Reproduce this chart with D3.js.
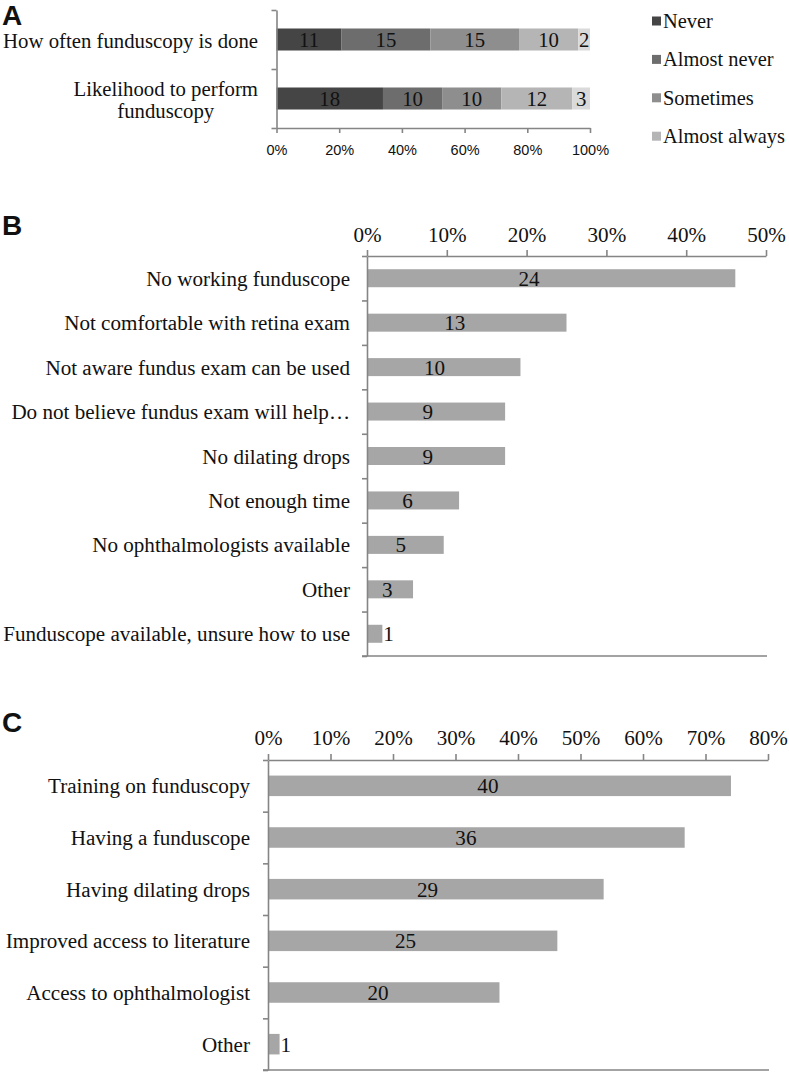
<!DOCTYPE html>
<html><head><meta charset="utf-8">
<script src="https://cdn.jsdelivr.net/npm/d3@7"></script>
<style>body{margin:0;background:#fff} svg{display:block}</style>
</head><body>
<svg id="c" width="789" height="1074"></svg>
<script>
// ---------- DATA ----------
const aCategories = ["How often funduscopy is done", "Likelihood to perform funduscopy"];
const aLabelLines = [["How often funduscopy is done"], ["Likelihood to perform", "funduscopy"]];
const aSeries = ["Never", "Almost never", "Sometimes", "Almost always", "Always"];
const aNever = [11, 18];
const aAlmostNever = [15, 10];
const aSometimes = [15, 10];
const aAlmostAlways = [10, 12];
const aAlways = [2, 3];
const aLegend = ["Never", "Almost never", "Sometimes", "Almost always"];
const aTicks = [0, 0.2, 0.4, 0.6, 0.8, 1.0];

const bCategories = ["No working funduscope", "Not comfortable with retina exam", "Not aware fundus exam can be used",
  "Do not believe fundus exam will help\u2026", "No dilating drops", "Not enough time", "No ophthalmologists available",
  "Other", "Funduscope available, unsure how to use"];
const bCounts = [24, 13, 10, 9, 9, 6, 5, 3, 1];
const bTotal = 52;
const bTicks = [0, 0.1, 0.2, 0.3, 0.4, 0.5];

const cCategories = ["Training on funduscopy", "Having a funduscope", "Having dilating drops",
  "Improved access to literature", "Access to ophthalmologist", "Other"];
const cCounts = [40, 36, 29, 25, 20, 1];
const cTotal = 54;
const cTicks = [0, 0.1, 0.2, 0.3, 0.4, 0.5, 0.6, 0.7, 0.8];

// ---------- STYLE ----------
const SERIF = "'Liberation Serif','Times New Roman',serif";
const SANS = "'Liberation Sans',Arial,sans-serif";
const AXIS = "#858585";
const BAR = "#a6a6a6";
const segColors = ["#454545", "#6d6d6d", "#8e8e8e", "#b5b5b5", "#dadada"];

const svg = d3.select("#c");
function measure(text, size, family, weight) {
  const t = svg.append("text").attr("font-family", family).attr("font-size", size)
    .attr("font-weight", weight || "normal").text(text);
  const w = t.node().getComputedTextLength(); t.remove(); return w;
}
function fitSize(text, width, family) { return 100 * width / measure(text, 100, family); }

const catSize = fitSize("Funduscope available, unsure how to use", 347, SERIF);
const aCatSize = fitSize("How often funduscopy is done", 255, SERIF);
const legSize = fitSize("Almost always", 122, SERIF);
const valSize = catSize;
const pct = d3.format(".0%");

function styleAxis(g) {
  g.selectAll("path.domain").attr("stroke", AXIS).attr("stroke-width", 1.6);
  g.selectAll(".tick line").attr("stroke", AXIS).attr("stroke-width", 1.6);
}

// panel letters
[["A", 25], ["B", 235], ["C", 732]].forEach(([t, y]) => {
  svg.append("text").attr("x", 2).attr("y", y).attr("font-family", SANS).attr("font-weight", "bold")
    .attr("font-size", 28).attr("fill", "#111").text(t);
});

// ---------- PANEL A ----------
(function () {
  const rows = aCategories.map((c, i) => ({
    cat: c, "Never": aNever[i], "Almost never": aAlmostNever[i], "Sometimes": aSometimes[i],
    "Almost always": aAlmostAlways[i], "Always": aAlways[i]
  }));
  const stack = d3.stack().keys(aSeries).offset(d3.stackOffsetExpand)(rows);
  const x = d3.scaleLinear().domain([0, 1]).range([276.5, 590]);
  const y = d3.scaleBand().domain(aCategories).range([10, 128]).paddingInner(0.627).paddingOuter(0.3135);
  const g = svg.append("g");
  stack.forEach((s, si) => {
    g.selectAll(null).data(s).join("rect")
      .attr("x", d => x(d[0])).attr("width", d => x(d[1]) - x(d[0]))
      .attr("y", d => y(d.data.cat)).attr("height", y.bandwidth())
      .attr("fill", segColors[si]);
    g.selectAll(null).data(s).join("text")
      .attr("x", d => (x(d[0]) + x(d[1])) / 2)
      .attr("y", d => y(d.data.cat) + y.bandwidth() / 2 + 7.5)
      .attr("text-anchor", "middle").attr("font-family", SERIF).attr("font-size", aCatSize)
      .attr("fill", "#111").text(d => d.data[s.key]);
  });
  // bottom value axis
  const ax = g.append("g").attr("transform", "translate(0,128)")
    .call(d3.axisBottom(x).tickValues(aTicks).tickFormat(pct).tickSize(5).tickSizeOuter(0).tickPadding(12));
  ax.selectAll("text").attr("font-family", SANS).attr("font-size", 14.5).attr("fill", "#111");
  styleAxis(ax);
  // category axis (boundary ticks)
  const yb = d3.scaleLinear().domain([0, aCategories.length]).range([10, 128]);
  const ay = g.append("g").attr("transform", "translate(276.5,0)")
    .call(d3.axisLeft(yb).ticks(aCategories.length).tickFormat("").tickSize(5).tickSizeOuter(0));
  styleAxis(ay);
  // category labels (multi-line labels are centred on their widest line, right edge at 258)
  aLabelLines.forEach((lines, i) => {
    const cy = y(aCategories[i]) + y.bandwidth() / 2;
    const widest = d3.max(lines, ln => measure(ln, aCatSize, SERIF));
    const cx = 258 - widest / 2;
    lines.forEach((ln, j) => {
      g.append("text").attr("x", lines.length > 1 ? cx : 258)
        .attr("y", cy + 8.5 + (j - (lines.length - 1) / 2) * 21.6)
        .attr("text-anchor", lines.length > 1 ? "middle" : "end")
        .attr("font-family", SERIF).attr("font-size", aCatSize)
        .attr("fill", "#111").text(ln);
    });
  });
  // legend
  aLegend.forEach((l, i) => {
    const by = 28 + i * 38.4;
    g.append("rect").attr("x", 652).attr("y", by - 11.5).attr("width", 9).attr("height", 9).attr("fill", segColors[i]);
    g.append("text").attr("x", 663).attr("y", by).attr("font-family", SERIF).attr("font-size", legSize)
      .attr("fill", "#111").text(l);
  });
})();

// ---------- PANELS B & C ----------
function hbar(cats, counts, total, ticks, xr, yr, pad, labelX, labelFrac, tickPad, lineEnd) {
  const x = d3.scaleLinear().domain([0, ticks[ticks.length - 1]]).range(xr);
  const y = d3.scaleBand().domain(cats).range(yr).paddingInner(pad).paddingOuter(pad / 2);
  const g = svg.append("g");
  const data = cats.map((c, i) => ({ cat: c, n: counts[i], p: counts[i] / total }));
  g.selectAll(null).data(data).join("rect")
    .attr("x", x(0)).attr("width", d => x(d.p) - x(0))
    .attr("y", d => y(d.cat)).attr("height", y.bandwidth()).attr("fill", BAR);
  g.selectAll(null).data(data).join("text")
    .attr("x", d => { const L = x(d.p) - x(0); return L < 25 ? x(d.p) + 1 : x(0) + labelFrac * L; })
    .attr("text-anchor", d => (x(d.p) - x(0)) < 25 ? "start" : "middle")
    .attr("y", d => y(d.cat) + y.bandwidth() / 2 + 7.5)
    .attr("font-family", SERIF).attr("font-size", valSize).attr("fill", "#111").text(d => d.n);
  // top axis
  const ax = g.append("g").attr("transform", `translate(0,${yr[0]})`)
    .call(d3.axisTop(x).tickValues(ticks).tickFormat(pct).tickSize(6).tickSizeOuter(0).tickPadding(tickPad));
  ax.selectAll("text").attr("font-family", SERIF).attr("font-size", catSize).attr("fill", "#111");
  styleAxis(ax);
  // category axis
  const yb = d3.scaleLinear().domain([0, cats.length]).range(yr);
  const ay = g.append("g").attr("transform", `translate(${xr[0]},0)`)
    .call(d3.axisLeft(yb).ticks(cats.length).tickFormat("").tickSize(5).tickSizeOuter(0));
  styleAxis(ay);
  // bottom line
  g.append("line").attr("x1", xr[0] - 5).attr("x2", lineEnd).attr("y1", yr[1]).attr("y2", yr[1])
    .attr("stroke", AXIS).attr("stroke-width", 1.6);
  // labels
  g.selectAll(null).data(cats).join("text")
    .attr("x", labelX).attr("y", d => y(d) + y.bandwidth() / 2 + 7.5)
    .attr("text-anchor", "end").attr("font-family", SERIF).attr("font-size", catSize)
    .attr("fill", "#111").text(d => d);
}
hbar(bCategories, bCounts, bTotal, bTicks, [367, 766], [256, 656], 0.595, 350, 0.44, 8, 767);
hbar(cCategories, cCounts, cTotal, cTicks, [268, 768], [760, 1070], 0.603, 250, 0.475, 9, 769);
</script>
</body></html>
